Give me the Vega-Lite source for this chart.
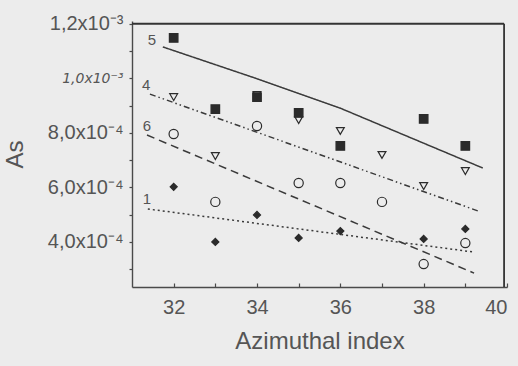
{
  "$schema": "https://vega.github.io/schema/vega-lite/v6.json",
  "width": 375,
  "height": 266,
  "autosize": {"type": "none"},
  "padding": {"left": 132, "top": 21, "right": 11, "bottom": 79},
  "background": "#ececec",
  "config": {
    "font": "Liberation Sans",
    "view": {"stroke": null},
    "axis": {"domainColor": "#4a4a4a", "domainWidth": 1.4, "tickColor": "#4a4a4a", "labelColor": "#555555", "titleColor": "#555555", "titleFontWeight": "normal", "grid": false}
  },
  "datasets": {
    "pts": [
      {"s": "5", "x": 32, "y": 0.001148}, {"s": "5", "x": 33, "y": 0.000887}, {"s": "5", "x": 34, "y": 0.000931},
      {"s": "5", "x": 35, "y": 0.000873}, {"s": "5", "x": 36, "y": 0.000752}, {"s": "5", "x": 38, "y": 0.000851},
      {"s": "5", "x": 39, "y": 0.000752},
      {"s": "4", "x": 32, "y": 0.000931}, {"s": "4", "x": 33, "y": 0.000715}, {"s": "4", "x": 34, "y": 0.000939},
      {"s": "4", "x": 35, "y": 0.000847}, {"s": "4", "x": 36, "y": 0.000807}, {"s": "4", "x": 37, "y": 0.000719},
      {"s": "4", "x": 38, "y": 0.000605}, {"s": "4", "x": 39, "y": 0.00066},
      {"s": "6", "x": 32, "y": 0.000796}, {"s": "6", "x": 33, "y": 0.000547}, {"s": "6", "x": 34, "y": 0.000825},
      {"s": "6", "x": 35, "y": 0.000616}, {"s": "6", "x": 36, "y": 0.000616}, {"s": "6", "x": 37, "y": 0.000547},
      {"s": "6", "x": 38, "y": 0.000319}, {"s": "6", "x": 39, "y": 0.000396},
      {"s": "1", "x": 32, "y": 0.000602}, {"s": "1", "x": 33, "y": 0.0004}, {"s": "1", "x": 34, "y": 0.000499},
      {"s": "1", "x": 35, "y": 0.000415}, {"s": "1", "x": 36, "y": 0.00044}, {"s": "1", "x": 38, "y": 0.000411},
      {"s": "1", "x": 39, "y": 0.000448}
    ],
    "fits": [
      {"s": "5", "x": 31.74, "y": 0.001115}, {"s": "5", "x": 33.95, "y": 0.001001},
      {"s": "5", "x": 35.99, "y": 0.000891}, {"s": "5", "x": 39.42, "y": 0.000671},
      {"s": "4", "x": 31.43, "y": 0.000942}, {"s": "4", "x": 39.3, "y": 0.000514},
      {"s": "6", "x": 31.36, "y": 0.000792}, {"s": "6", "x": 39.21, "y": 0.000286},
      {"s": "1", "x": 31.38, "y": 0.000521}, {"s": "1", "x": 39.21, "y": 0.000363}
    ],
    "labs": [
      {"t": "5", "x": 31.48, "y": 0.00114},
      {"t": "4", "x": 31.34, "y": 0.000975},
      {"t": "6", "x": 31.36, "y": 0.000825},
      {"t": "1", "x": 31.36, "y": 0.000558}
    ],
    "frame": [
      {"x": 31, "x2": 39.93, "y": 0.0012, "y2": 0.0012},
      {"x": 39.93, "x2": 39.93, "y": 0.000235, "y2": 0.0012}
    ]
  },
  "encoding": {
    "x": {
      "field": "x", "type": "quantitative",
      "scale": {"domain": [31, 40], "nice": false, "zero": false},
      "axis": {
        "title": "Azimuthal index", "titleFontSize": 24, "titlePadding": 12,
        "values": [32, 33, 34, 35, 36, 37, 38, 39, 40],
        "labelExpr": "datum.value % 2 == 0 ? datum.label : ''",
        "labelFontSize": 20, "labelPadding": 14,
        "tickSize": -4,
        "tickWidth": 1.2
      }
    },
    "y": {
      "field": "y", "type": "quantitative",
      "scale": {"domain": [0.000235, 0.00121], "nice": false, "zero": false},
      "axis": {
        "title": "As", "titleFontSize": 24, "titlePadding": 20,
        "values": [0.0003, 0.0004, 0.0005, 0.0006, 0.0007, 0.0008, 0.0009, 0.001, 0.0011, 0.0012],
        "labelExpr": "round(datum.value*1e5)==120 ? '1,2x10⁻³' : round(datum.value*1e5)==100 ? '1,0x10⁻³' : round(datum.value*1e5)==80 ? '8,0x10⁻⁴' : round(datum.value*1e5)==60 ? '6,0x10⁻⁴' : round(datum.value*1e5)==40 ? '4,0x10⁻⁴' : ''",
        "labelFontSize": {"condition": {"test": "round(datum.value*1e5)==100", "value": 14}, "value": 20},
        "labelFontStyle": {"condition": {"test": "round(datum.value*1e5)==100", "value": "italic"}, "value": "normal"},
        "labelFont": {"condition": {"test": "round(datum.value*1e5)==100", "value": "DejaVu Sans"}, "value": "Liberation Sans"},
        "labelPadding": 6,
        "tickSize": 3,
        "tickWidth": 1.2
      }
    }
  },
  "layer": [
    {
      "data": {"name": "frame"},
      "mark": {"type": "rule", "color": "#333333", "strokeWidth": 1.8},
      "encoding": {"x2": {"field": "x2"}, "y2": {"field": "y2"}}
    },
    {
      "data": {"name": "fits"},
      "mark": {"type": "line", "color": "#3a3a3a", "strokeWidth": 1.5},
      "encoding": {
        "detail": {"field": "s"},
        "strokeDash": {
          "field": "s", "type": "nominal", "legend": null,
          "scale": {"domain": ["1", "4", "5", "6"], "range": [[2, 3], [6, 3, 1.5, 3, 1.5, 3], [1, 0], [8, 5]]}
        }
      }
    },
    {
      "data": {"name": "pts"},
      "mark": {"type": "point", "stroke": "#2b2b2b", "strokeWidth": 1.2, "opacity": 1},
      "encoding": {
        "shape": {
          "field": "s", "type": "nominal", "legend": null,
          "scale": {"domain": ["1", "4", "5", "6"], "range": ["diamond", "triangle-down", "square", "circle"]}
        },
        "fill": {
          "field": "s", "type": "nominal", "legend": null,
          "scale": {"domain": ["1", "4", "5", "6"], "range": ["#2b2b2b", "transparent", "#2b2b2b", "transparent"]}
        },
        "size": {
          "field": "s", "type": "nominal", "legend": null,
          "scale": {"domain": ["1", "4", "5", "6"], "range": [50, 85, 38, 42]}
        }
      }
    },
    {
      "data": {"name": "labs"},
      "mark": {"type": "text", "fontSize": 15, "color": "#555555"},
      "encoding": {"text": {"field": "t"}}
    }
  ]
}
